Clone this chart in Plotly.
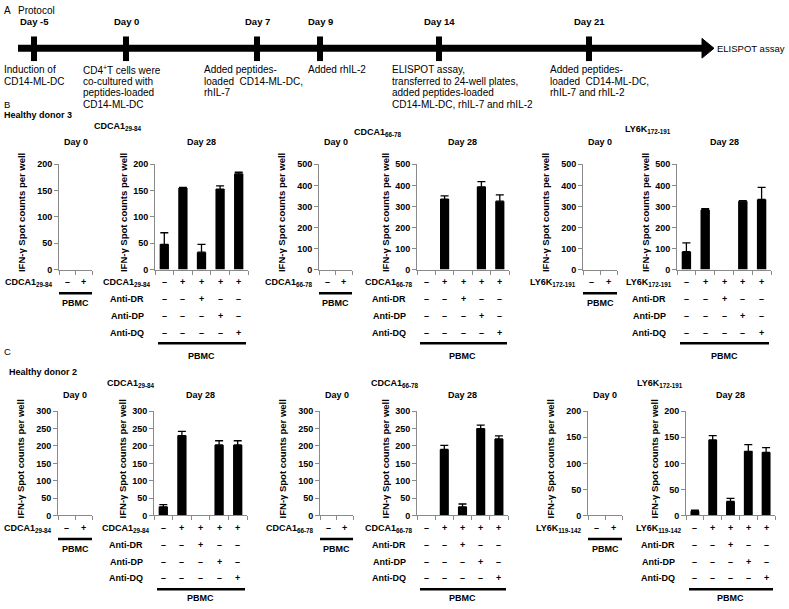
import numpy as np
import plotly.graph_objects as go

W, H = 789, 609
FONT = "Liberation Sans, Arial, sans-serif"
GREY = "#8a8a8a"

# ---------------- data ----------------
timeline_days = ["Day -5", "Day 0", "Day 7", "Day 9", "Day 14", "Day 21"]
timeline_notes = [
    ["Induction of", "CD14-ML-DC"],
    ["CD4<sup>+</sup>T cells were", "co-cultured with", "peptides-loaded", "CD14-ML-DC"],
    ["Added peptides-", "loaded  CD14-ML-DC,", "rhIL-7"],
    ["Added rhIL-2"],
    ["ELISPOT assay,", "transferred to 24-well plates,", "added peptides-loaded", "CD14-ML-DC, rhIL-7 and rhIL-2"],
    ["Added peptides-", "loaded  CD14-ML-DC,", "rhIL-7 and rhIL-2"],
]
timeline_end = "ELISPOT assay"

day0_signs = ["\u2013", "+"]
day28_peptide = ["\u2013", "+", "+", "+", "+"]
anti_dr = ["\u2013", "\u2013", "+", "\u2013", "\u2013"]
anti_dp = ["\u2013", "\u2013", "\u2013", "+", "\u2013"]
anti_dq = ["\u2013", "\u2013", "\u2013", "\u2013", "+"]
anti_names = ["Anti-DR", "Anti-DP", "Anti-DQ"]

b_titles = ["CDCA1<sub>29-84</sub>", "CDCA1<sub>66-78</sub>", "LY6K<sub>172-191</sub>"]
b_peptides = ["CDCA1<sub>29-84</sub>", "CDCA1<sub>66-78</sub>", "LY6K<sub>172-191</sub>"]
b_day0 = [[0, 0], [0, 0], [0, 0]]
b_day28 = [[48, 155, 33, 153, 182], [0, 335, 0, 393, 325], [85, 283, 0, 325, 333]]
b_err = [[22, 1, 15, 6, 3], [None, 15, None, 25, 30], [42, 7, None, 2, 58]]
b_ymax = [200, 500, 500]
b_dtick = [50, 100, 100]

c_titles = ["CDCA1<sub>29-84</sub>", "CDCA1<sub>66-78</sub>", "LY6K<sub>172-191</sub>"]
c_peptides = ["CDCA1<sub>29-84</sub>", "CDCA1<sub>66-78</sub>", "LY6K<sub>119-142</sub>"]
c_day0 = [[0, 0], [0, 0], [0, 0]]
c_day28 = [[25, 230, 0, 203, 203], [0, 190, 25, 250, 220], [8, 145, 27, 123, 121]]
c_err = [[6, 12, None, 12, 12], [None, 12, 8, 10, 9], [2, 8, 6, 13, 9]]
c_ymax = [300, 300, 200]
c_dtick = [50, 50, 50]

ytitle = "IFN-\u03b3 Spot counts per well"

# ---------------- layout geometry (pixels) ----------------
tl_pos = [34, 126, 257, 320, 439, 589]
tl_note_x = [3, 82, 203, 307, 391, 549]
ROW_B = dict(top=162, zero=269, hd_y=112, grp_y=[124, 130, 127], day_y=139, letter_y=101, pbmc_dy=88)
ROW_C = dict(top=413, zero=519, hd_y=373, grp_y=[385, 385, 385], day_y=397, letter_y=352, pbmc_dy=84)
PAN_B = [(59, 92, 155, 248), (319, 352, 417, 509), (583, 617, 677, 771)]
PAN_C = [(58, 92, 154, 247), (320, 353, 417, 508), (588, 622, 686, 775)]
GRP_X_B = [118, 378, 648]
GRP_X_C = [131, 395, 660]


def X(p):
    return p / W


def Y(p):
    return 1 - p / H


fig = go.Figure()
layout = {}
annotations = []
shapes = []


def font(size, bold=True):
    return dict(family=FONT, size=size, color="black", weight="bold" if bold else "normal")


def text(x, y, t, size=9, bold=True, xanchor="center", angle=0, xref="paper"):
    annotations.append(dict(
        x=X(x) if xref == "paper" else x, y=Y(y), xref=xref, yref="paper", text=t,
        showarrow=False, xanchor=xanchor, yanchor="middle", textangle=angle,
        borderpad=0, font=font(size, bold)))


def add_chart(n, x0, x1, top, zero, values, errs, ymax, dtick):
    k = len(values)
    xa = "xaxis" if n == 1 else f"xaxis{n}"
    ya = "yaxis" if n == 1 else f"yaxis{n}"
    layout[xa] = dict(domain=[X(x0), X(x1)], anchor=f"y{n}", range=[-0.5, k - 0.5],
                      tickvals=[i - 0.5 for i in range(k + 1)], ticks="outside", ticklen=4,
                      tickcolor=GREY, tickwidth=1, showline=True, linecolor=GREY, linewidth=1,
                      showticklabels=False, showgrid=False, zeroline=False, fixedrange=True)
    layout[ya] = dict(domain=[Y(zero), Y(top)], anchor=f"x{n}", range=[0, ymax], tick0=0,
                      dtick=dtick, ticks="outside", ticklen=4, tickcolor=GREY, tickwidth=1,
                      showline=True, linecolor=GREY, linewidth=1, showgrid=False,
                      zeroline=False, fixedrange=True, tickfont=font(9))
    fig.add_trace(go.Bar(x=list(range(k)), y=values, width=0.5,
                         marker=dict(color="black", line=dict(width=0)),
                         xaxis=f"x{n}", yaxis=f"y{n}", showlegend=False, hoverinfo="skip"))
    if errs:
        idx = [i for i, e in enumerate(errs) if e is not None]
        fig.add_trace(go.Scatter(
            x=idx, y=[values[i] for i in idx], mode="markers",
            marker=dict(size=1, opacity=0),
            error_y=dict(type="data", symmetric=False, array=[errs[i] for i in idx],
                         arrayminus=[0] * len(idx), color="black", thickness=1.3, width=4),
            xaxis=f"x{n}", yaxis=f"y{n}", showlegend=False, hoverinfo="skip"))
    return k


# ---------------- Protocol timeline ----------------
text(3, 6, "A", 10, False, "left")
text(17, 6, "Protocol", 10, False, "left")
shapes.append(dict(type="line", xref="paper", yref="paper", x0=X(18), x1=X(704), y0=Y(44), y1=Y(44),
                   line=dict(color="black", width=7)))
shapes.append(dict(type="path", xref="paper", yref="paper",
                   path=f"M {X(702)} {Y(34)} L {X(714)} {Y(44)} L {X(702)} {Y(54)} Z",
                   fillcolor="black", line=dict(color="black", width=1)))
for d, px, nx, notes in zip(timeline_days, tl_pos, tl_note_x, timeline_notes):
    shapes.append(dict(type="rect", xref="paper", yref="paper", x0=X(px - 3), x1=X(px + 3),
                       y0=Y(57), y1=Y(32), fillcolor="black", line=dict(width=0)))
    text(px, 17, d, 9.5, True)
    for j, line in enumerate(notes):
        text(nx, 66 + j * 11.7, line, 10, False, "left")
text(716, 44, timeline_end, 9.5, False, "left")


# ---------------- panels ----------------
def build_row(row, pans, grp_x, titles, peptides, day0, day28, errs, ymax, dtick, start_n, letter, donor, donor_x):
    top, zero = row["top"], row["zero"]
    text(3, row["letter_y"], letter, 9.5, False, "left")
    text(donor_x, row["hd_y"], donor, 9, True, "left")
    n = start_n
    for p in range(3):
        x0, x1, x2, x3 = pans[p]
        text(grp_x[p], row["grp_y"][p], titles[p], 9, True)
        # Day 0 chart
        add_chart(n, x0, x1, top, zero, day0[p], None, ymax[p], dtick[p])
        text((x0 + x1) / 2, row["day_y"], "Day 0", 9, True)
        text(x0 - 38, (top + zero) / 2 - 4, ytitle, 9.5, True, angle=-90)
        text(x0 - 30, zero + 13, peptides[p], 9, True)
        for i, s in enumerate(day0_signs):
            text(i, zero + 13, s, 9, True, xref=f"x{n}")
        shapes.append(dict(type="line", xref="paper", yref="paper", x0=X(x0), x1=X(x1),
                           y0=Y(zero + 24), y1=Y(zero + 24), line=dict(color="black", width=2.5)))
        text((x0 + x1) / 2, zero + 34, "PBMC", 9, True)
        n += 1
        # Day 28 chart
        add_chart(n, x2, x3, top, zero, day28[p], errs[p], ymax[p], dtick[p])
        text((x2 + x3) / 2, row["day_y"], "Day 28", 9, True)
        text(x2 - 32, (top + zero) / 2 - 4, ytitle, 9.5, True, angle=-90)
        rows_lab = [peptides[p]] + anti_names
        rows_sig = [day28_peptide, anti_dr, anti_dp, anti_dq]
        rows_y = [zero + 13, zero + 30, zero + 47, zero + 64]
        for lab, sigs, yy in zip(rows_lab, rows_sig, rows_y):
            text(x2 - 28, yy, lab, 9, True)
            for i, s in enumerate(sigs):
                text(i, yy, s, 9, True, xref=f"x{n}")
        shapes.append(dict(type="line", xref="paper", yref="paper", x0=X(x2 + 3), x1=X(x3 - 2),
                           y0=Y(zero + 75), y1=Y(zero + 75), line=dict(color="black", width=2.5)))
        text((x2 + x3) / 2, zero + row["pbmc_dy"], "PBMC", 9, True)
        n += 1
    return n


n = build_row(ROW_B, PAN_B, GRP_X_B, b_titles, b_peptides, b_day0, b_day28, b_err, b_ymax, b_dtick,
              1, "B", "Healthy donor 3", 3)
n = build_row(ROW_C, PAN_C, GRP_X_C, c_titles, c_peptides, c_day0, c_day28, c_err, c_ymax, c_dtick,
              n, "C", "Healthy donor 2", 8)

fig.update_layout(
    width=W, height=H, autosize=False,
    margin=dict(l=0, r=0, t=0, b=0, pad=0),
    paper_bgcolor="white", plot_bgcolor="white",
    showlegend=False, barmode="overlay",
    font=dict(family=FONT, color="black"),
    annotations=annotations, shapes=shapes,
    **layout,
)
fig.write_html(
    "out.html",
    config={"displayModeBar": False},
    post_script="document.body.style.margin='0';document.body.style.padding='0';"
                "document.documentElement.style.overflow='hidden';",
)
